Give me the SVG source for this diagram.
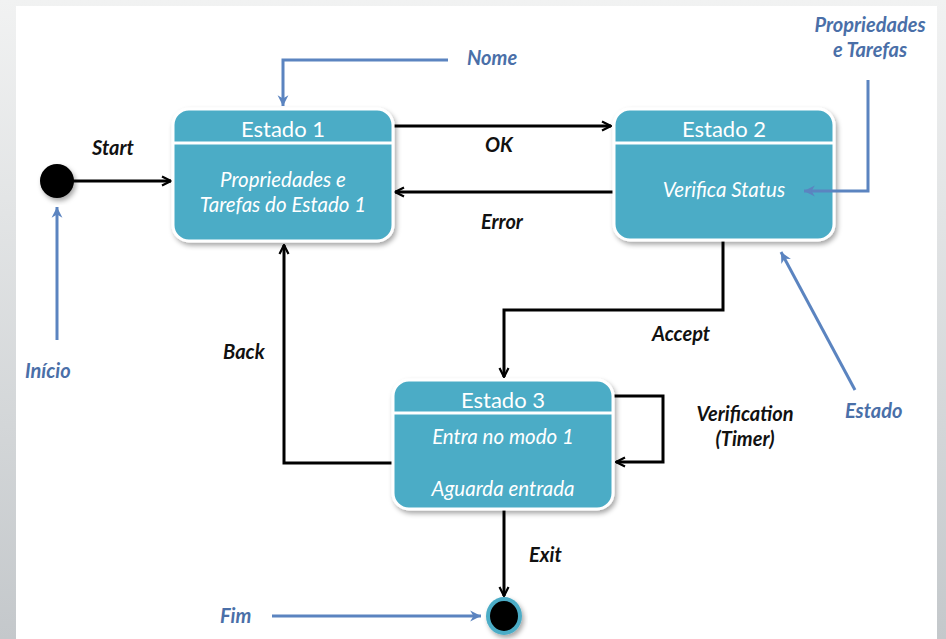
<svg xmlns="http://www.w3.org/2000/svg" width="946" height="639" viewBox="0 0 946 639">
  <style>
    .state { fill: #4bacc6; stroke: #ffffff; stroke-width: 3; }
    .divider { stroke: #ffffff; stroke-width: 3; }
    .title { font-family: Lato, "Open Sans", sans-serif; font-size: 22px; fill: #ffffff; text-anchor: middle; }
    .body { font-family: Lato, "Open Sans", sans-serif; font-size: 20.5px; font-style: italic; fill: #ffffff; text-anchor: middle; }
    .edge { fill: none; stroke: #000000; stroke-width: 3; }
    .note { fill: none; stroke: #5b84c0; stroke-width: 3; }
    .lbl { font-family: Lato, "Open Sans", sans-serif; font-size: 20px; font-weight: bold; font-style: italic; fill: #111111; }
    .nlbl { font-family: Lato, "Open Sans", sans-serif; font-size: 20px; font-weight: bold; font-style: italic; fill: #4a6fa8; }
  </style>
  <defs>
    <linearGradient id="frame" x1="0" y1="0" x2="0" y2="1">
      <stop offset="0" stop-color="#f1f2f2"/>
      <stop offset="1" stop-color="#c4c8cb"/>
    </linearGradient>
    <filter id="shadow" x="-10%" y="-10%" width="125%" height="130%">
      <feDropShadow dx="2" dy="3" stdDeviation="2.5" flood-color="#000000" flood-opacity="0.35"/>
    </filter>
    <marker id="arrow" viewBox="0 0 12 12" refX="11" refY="6" markerWidth="12" markerHeight="12" markerUnits="userSpaceOnUse" orient="auto">
      <path d="M2,1.5 L11,6 L2,10.5" fill="none" stroke="#000000" stroke-width="2.2"/>
    </marker>
    <marker id="blueArrow" viewBox="0 0 12 12" refX="11" refY="6" markerWidth="13" markerHeight="13" markerUnits="userSpaceOnUse" orient="auto">
      <path d="M1,1 L11,6 L1,11 L4,6 Z" fill="#5b84c0"/>
    </marker>
  </defs>

  <!-- page frame -->
  <rect x="0" y="0" width="946" height="639" fill="url(#frame)"/>
  <rect x="16" y="6" width="921" height="633" fill="#ffffff"/>

  <!-- connectors -->
  <g id="connectors">
    <line class="edge" x1="73" y1="181" x2="171" y2="181" marker-end="url(#arrow)"/>
    <line class="edge" x1="394" y1="126" x2="611" y2="126" marker-end="url(#arrow)"/>
    <line class="edge" x1="613" y1="192" x2="395" y2="192" marker-end="url(#arrow)"/>
    <polyline class="edge" points="723,241 723,310 504,310 504,377" marker-end="url(#arrow)"/>
    <polyline class="edge" points="392,463 284,463 284,245" marker-end="url(#arrow)"/>
    <polyline class="edge" points="614,396 663,396 663,462 616,462" marker-end="url(#arrow)"/>
    <line class="edge" x1="504" y1="510" x2="504" y2="596" marker-end="url(#arrow)"/>

    <text class="lbl" x="92" y="155">Start</text>
    <text class="lbl" x="485" y="152">OK</text>
    <text class="lbl" x="481" y="229">Error</text>
    <text class="lbl" x="652" y="341">Accept</text>
    <text class="lbl" x="223" y="359">Back</text>
    <text class="lbl" x="745" y="421" text-anchor="middle">Verification</text>
    <text class="lbl" x="745" y="446" text-anchor="middle">(Timer)</text>
    <text class="lbl" x="529" y="562">Exit</text>
  </g>

  <!-- initial pseudo-state -->
  <g id="start">
    <circle cx="57" cy="181" r="17" fill="#000000" filter="url(#shadow)"/>
  </g>

  <!-- final state -->
  <g id="end">
    <ellipse cx="504" cy="616" rx="18" ry="19" fill="#4bacc6" filter="url(#shadow)"/>
    <ellipse cx="504" cy="616" rx="14" ry="15" fill="#000000"/>
  </g>

  <g id="estado1">
    <rect class="state" x="173" y="109" width="220" height="132" rx="16" filter="url(#shadow)"/>
    <line class="divider" x1="173" y1="143" x2="393" y2="143"/>
    <text class="title" x="283" y="137">Estado 1</text>
    <text class="body" x="283" y="187">Propriedades e</text>
    <text class="body" x="283" y="212">Tarefas do Estado 1</text>
  </g>

  <g id="estado2">
    <rect class="state" x="614" y="109" width="220" height="131" rx="16" filter="url(#shadow)"/>
    <line class="divider" x1="614" y1="143" x2="834" y2="143"/>
    <text class="title" x="724" y="137">Estado 2</text>
    <text class="body" x="724" y="197">Verifica Status</text>
  </g>

  <g id="estado3">
    <rect class="state" x="393" y="380" width="220" height="129" rx="16" filter="url(#shadow)"/>
    <line class="divider" x1="393" y1="413" x2="613" y2="413"/>
    <text class="title" x="503" y="408">Estado 3</text>
    <text class="body" x="503" y="444">Entra no modo 1</text>
    <text class="body" x="503" y="496">Aguarda entrada</text>
  </g>

  <!-- annotations, drawn over the states -->
  <g id="annotations">
    <polyline class="note" points="448,60 283,60 283,106" marker-end="url(#blueArrow)"/>
    <text class="nlbl" x="467" y="65">Nome</text>

    <polyline class="note" points="868,80 868,191 804,191" marker-end="url(#blueArrow)"/>
    <text class="nlbl" x="870" y="32" text-anchor="middle">Propriedades</text>
    <text class="nlbl" x="870" y="57" text-anchor="middle">e Tarefas</text>

    <line class="note" x1="855" y1="390" x2="781" y2="252" marker-end="url(#blueArrow)"/>
    <text class="nlbl" x="845" y="418">Estado</text>

    <line class="note" x1="57" y1="340" x2="57" y2="207" marker-end="url(#blueArrow)"/>
    <text class="nlbl" x="25" y="378">Início</text>

    <line class="note" x1="272" y1="616" x2="481" y2="616" marker-end="url(#blueArrow)"/>
    <text class="nlbl" x="220" y="623">Fim</text>
  </g>
</svg>
